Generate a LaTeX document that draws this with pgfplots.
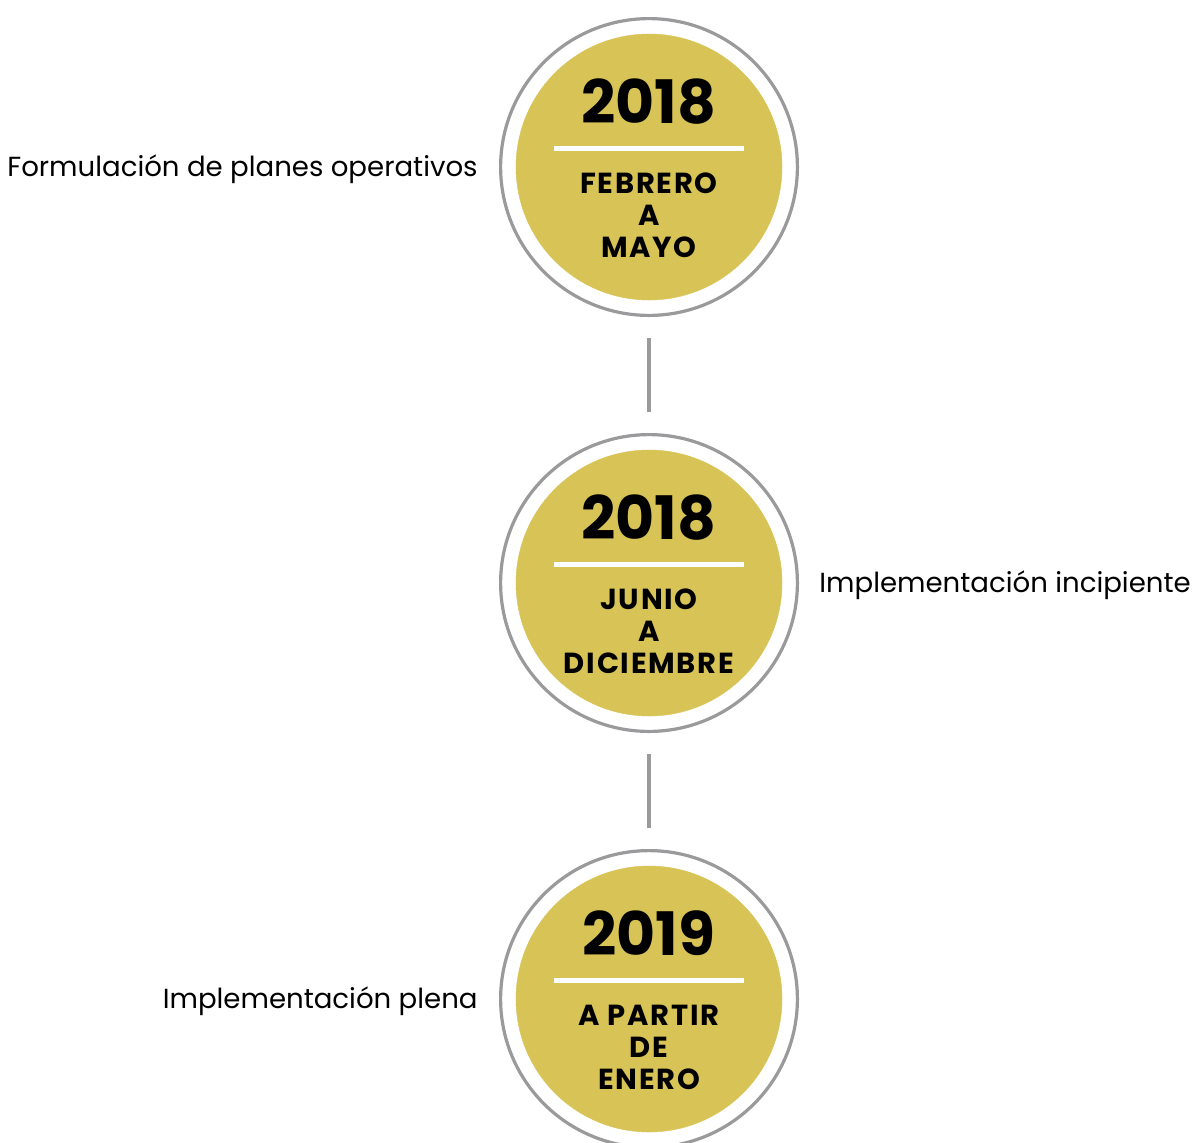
\documentclass[border=0pt]{standalone}
\usepackage{fontspec}
\setmainfont{Poppins}
\usepackage{pgfplots}
\pgfplotsset{compat=1.18}
\definecolor{ringgray}{HTML}{9A9A9C}
\definecolor{goldfill}{HTML}{D8C456}

% 1 px of the reference = 0.5pt
\tikzset{yr/.style={anchor=base,font=\fontsize{30}{30}\selectfont\bfseries},
  per/.style={anchor=base,font=\fontsize{14.5}{14.5}\selectfont\bfseries\addfontfeature{LetterSpace=6}},
  desc/.style={inner sep=0pt,font=\fontsize{13.8}{13.8}\selectfont}}
\begin{document}
\begin{tikzpicture}
\useasboundingbox (0,0) rectangle (596pt,571pt);
\begin{axis}[
  at={(0,0)},anchor=south west,
  scale only axis,width=596pt,height=571pt,
  xmin=0,xmax=1192,ymin=0,ymax=1142,y dir=reverse,
  hide axis,clip marker paths=true,
]
% connectors
\addplot[ringgray,line width=1.6pt] coordinates {(649,338) (649,412)};
\addplot[ringgray,line width=1.6pt] coordinates {(649,754) (649,828)};
% outer rings
\addplot[only marks,mark=*,mark size=74.2pt,
  mark options={draw=ringgray,fill=white,line width=1.6pt}]
  coordinates {(649,167) (649,583) (649,999)};
% gold discs
\addplot[only marks,mark=*,mark size=66.5pt,
  mark options={draw=goldfill,fill=goldfill,line width=0.2pt}]
  coordinates {(649,167) (649,583) (649,999)};
% white rules
\addplot[white,line width=2.5pt] coordinates {(554,148) (744,148)};
\addplot[white,line width=2.5pt] coordinates {(554,564) (744,564)};
\addplot[white,line width=2.5pt] coordinates {(554,980) (744,980)};
% years
\node[yr] at (axis cs:649,123) {2018};
\node[yr] at (axis cs:649,539) {2018};
\node[yr] at (axis cs:649,955) {2019};
% periods
\node[per] at (axis cs:649,193) {FEBRERO};
\node[per] at (axis cs:649,225) {A};
\node[per] at (axis cs:649,257) {MAYO};
\node[per] at (axis cs:649,609) {JUNIO};
\node[per] at (axis cs:649,641) {A};
\node[per] at (axis cs:649,673) {DICIEMBRE};
\node[per] at (axis cs:649,1025) {A PARTIR};
\node[per] at (axis cs:649,1057) {DE};
\node[per] at (axis cs:649,1089) {ENERO};
% descriptions
\node[desc,anchor=base east] at (axis cs:478,176) {Formulación de planes operativos};
\node[desc,anchor=base west] at (axis cs:819,592) {Implementación incipiente};
\node[desc,anchor=base east] at (axis cs:478,1008) {Implementación plena};
\end{axis}
\end{tikzpicture}
\end{document}
